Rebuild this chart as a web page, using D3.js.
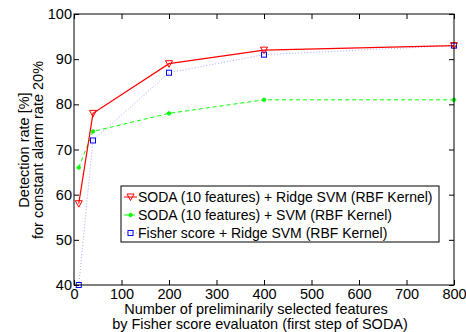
<!DOCTYPE html>
<html>
<head>
<meta charset="utf-8">
<script src="https://cdn.jsdelivr.net/npm/d3@7"></script>
<style>
  body { margin: 0; background: #fff; }
  text { font-family: "Liberation Sans", Arial, sans-serif; }
</style>
</head>
<body>
<script>
// x positions: number of preliminarily selected features
var features = [10, 40, 200, 400, 800];

// detection rate [%] for each method
var sodaRidge = [58, 78, 89, 92, 93];
var sodaSvm = [66, 74, 78, 81, 81];
var fisherRidge = [40, 72, 87, 91, 93];

var seriesNames = [
  "SODA (10 features) + Ridge SVM (RBF Kernel)",
  "SODA (10 features) + SVM (RBF Kernel)",
  "Fisher score + Ridge SVM (RBF Kernel)"
];

var xTicks = [0, 100, 200, 300, 400, 500, 600, 700, 800];
var yTicks = [40, 50, 60, 70, 80, 90, 100];

var W = 466, H = 332;
var margin = {top: 14, right: 12, bottom: 47, left: 74};
var width = W - margin.left - margin.right;
var height = H - margin.top - margin.bottom;
var fs = "14.5px";

var svg = d3.select("body").append("svg")
    .attr("width", W)
    .attr("height", H);

var g = svg.append("g")
    .attr("transform", "translate(" + margin.left + "," + margin.top + ")");

var x = d3.scaleLinear().domain([0, 800]).range([0, width]);
var y = d3.scaleLinear().domain([40, 100]).range([height, 0]);

// axes, ticks pointing inward on all four sides
function styleAxis(sel, hideText) {
  sel.select(".domain").remove();
  sel.selectAll("line").attr("stroke", "#000").attr("stroke-width", 1);
  sel.selectAll("text")
     .attr("fill", "#000")
     .style("font-size", fs);
  if (hideText) sel.selectAll("text").remove();
}

g.append("g")
  .attr("transform", "translate(0," + height + ")")
  .call(d3.axisBottom(x).tickValues(xTicks).tickSize(-5).tickPadding(4).tickFormat(d3.format("d")))
  .call(styleAxis, false);

g.append("g")
  .call(d3.axisTop(x).tickValues(xTicks).tickSize(-5))
  .call(styleAxis, true);

g.append("g")
  .call(d3.axisLeft(y).tickValues(yTicks).tickSize(-5).tickPadding(2).tickFormat(d3.format("d")))
  .call(styleAxis, false);

g.append("g")
  .attr("transform", "translate(" + width + ",0)")
  .call(d3.axisRight(y).tickValues(yTicks).tickSize(-5))
  .call(styleAxis, true);

var line = d3.line()
    .x(function(d) { return x(d[0]); })
    .y(function(d) { return y(d[1]); });

function pairs(vals) {
  return features.map(function(f, i) { return [f, vals[i]]; });
}

// blue dotted
g.append("path")
  .datum(pairs(fisherRidge))
  .attr("fill", "none")
  .attr("stroke", "#a8a8ff")
  .attr("stroke-width", 1)
  .attr("stroke-dasharray", "1,2")
  .attr("d", line);

// green dashed
g.append("path")
  .datum(pairs(sodaSvm))
  .attr("fill", "none")
  .attr("stroke", "#00ff00")
  .attr("stroke-width", 1)
  .attr("stroke-dasharray", "4,3")
  .attr("d", line);

// red solid
g.append("path")
  .datum(pairs(sodaRidge))
  .attr("fill", "none")
  .attr("stroke", "#ff0000")
  .attr("stroke-width", 1.2)
  .attr("d", line);

// markers
function triDown(sel) {
  sel.append("path")
    .attr("d", "M-3.5,-3 L3.5,-3 L0,3.5 Z")
    .attr("fill", "none")
    .attr("stroke", "#ff0000")
    .attr("stroke-width", 1);
}
function dot(sel) {
  sel.append("circle")
    .attr("r", 1.8)
    .attr("fill", "#00ff00")
    .attr("stroke", "#00ff00")
    .attr("stroke-width", 0.8);
}
function square(sel) {
  sel.append("rect")
    .attr("x", -2.5).attr("y", -2.5)
    .attr("width", 5).attr("height", 5)
    .attr("fill", "none")
    .attr("stroke", "#0000ff")
    .attr("stroke-width", 1);
}

function addMarkers(vals, fn) {
  g.selectAll(null)
    .data(pairs(vals))
    .enter().append("g")
    .attr("transform", function(d) { return "translate(" + x(d[0]) + "," + y(d[1]) + ")"; })
    .each(function() { fn(d3.select(this)); });
}
addMarkers(fisherRidge, square);
addMarkers(sodaSvm, dot);
addMarkers(sodaRidge, triDown);

// plot box
g.append("rect")
  .attr("width", width)
  .attr("height", height)
  .attr("fill", "none")
  .attr("stroke", "#000")
  .attr("stroke-width", 1);

// legend
var legend = svg.append("g").attr("transform", "translate(121,186)");
legend.append("rect")
  .attr("width", 318)
  .attr("height", 56)
  .attr("fill", "#fff")
  .attr("stroke", "#000")
  .attr("stroke-width", 1);

var legendStyle = [
  {color: "#ff0000", dash: null, mark: triDown},
  {color: "#00ff00", dash: "4,3", mark: dot},
  {color: "#a8a8ff", dash: "1,2", mark: square}
];

seriesNames.forEach(function(name, i) {
  var row = legend.append("g").attr("transform", "translate(0," + (11 + i * 18) + ")");
  row.append("line")
    .attr("x1", 3).attr("x2", 16)
    .attr("stroke", legendStyle[i].color)
    .attr("stroke-width", 1)
    .attr("stroke-dasharray", legendStyle[i].dash);
  var m = row.append("g").attr("transform", "translate(9.5,0)");
  legendStyle[i].mark(m);
  row.append("text")
    .attr("x", 17)
    .attr("dy", "0.35em")
    .style("font-size", "14px")
    .text(name);
});

// axis labels
var xl = svg.append("text")
  .attr("text-anchor", "middle")
  .style("font-size", fs);
xl.append("tspan").attr("x", 256).attr("y", 314).text("Number of preliminarily selected features");
xl.append("tspan").attr("x", 260).attr("y", 329).text("by Fisher score evaluaton (first step of SODA)");

var yl = svg.append("text")
  .attr("text-anchor", "middle")
  .attr("transform", "translate(0,150) rotate(-90)")
  .style("font-size", fs);
yl.append("tspan").attr("x", 0).attr("y", 29).text("Detection rate [%]");
yl.append("tspan").attr("x", 0).attr("y", 43).text("for constant alarm rate 20%");
</script>
</body>
</html>
